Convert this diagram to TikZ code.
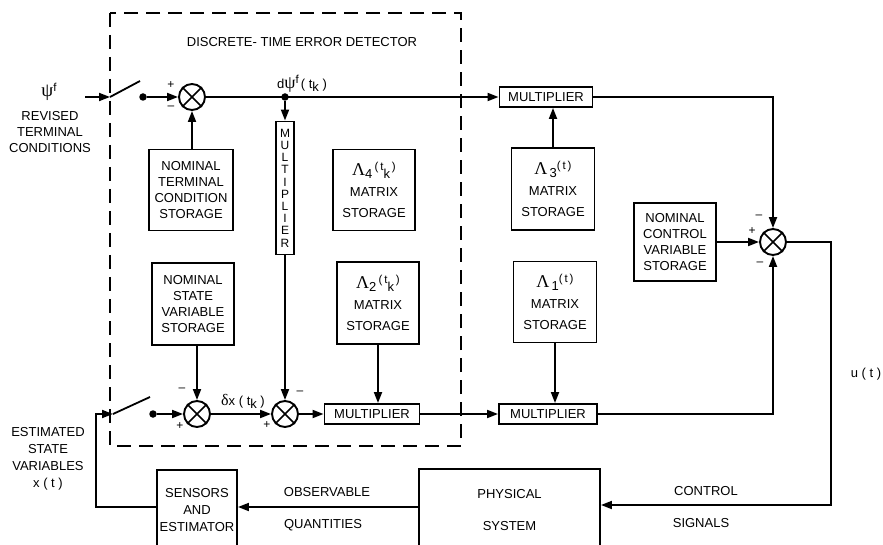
\documentclass[tikz,border=0pt]{standalone}
\usepackage{fontspec}
\setmainfont{Liberation Sans}
\newfontfamily\grk{Liberation Serif}
\newcommand{\Lam}{{\grk\fontsize{18}{18}\selectfont Λ}}
\newcommand{\lo}[1]{\raisebox{-3pt}{\fontsize{13}{13}\selectfont #1}}
\newcommand{\hi}[1]{\raisebox{5pt}{\fontsize{11.5}{11.5}\selectfont #1}}
\usetikzlibrary{arrows.meta}
\begin{document}
\begin{tikzpicture}[x=1pt,y=-1pt,
  every node/.style={font=\fontsize{13}{16}\selectfont},
  blk/.style={draw, line width=1.9pt, align=center, inner sep=2pt},
  lam/.style={blk, font=\fontsize{13}{21}\selectfont},
  mul/.style={blk, minimum height=20pt, inner sep=1pt},
  ln/.style={line width=1.8pt},
  arr/.style={line width=1.8pt, -{Triangle[length=11pt,width=8pt]}},
  sumj/.style={circle, draw, line width=1.9pt, minimum size=26pt, inner sep=0pt},
  dot/.style={circle, fill, inner sep=0pt, minimum size=7.5pt},
  lbl/.style={align=center, inner sep=0pt},
  sgn/.style={inner sep=0pt, font=\fontsize{12}{12}\selectfont},
  detbox/.style={line width=1.9pt, dash pattern=on 14pt off 8pt},
]
\useasboundingbox (0,0) rectangle (883,545);
\clip (0,0) rectangle (883,545);

% dashed detector boundary
\draw[detbox] (110,13) rectangle (461,446);
\node[lbl] (title) at (302,42) {DISCRETE- TIME ERROR DETECTOR};

% top row
\coordinate (cIn) at (85,97);
\coordinate (sw1) at (110,97);
\coordinate (sw1e) at (140,81);
\node[dot] (dot1) at (143,97) {};
\node[sumj] (sumA) at (192,97) {};
\node[dot] (dpsi) at (285,97) {};
\node[mul, minimum width=93pt] (mult1) at (546,97) {MULTIPLIER};

% storage boxes
\node[blk, minimum width=84pt, minimum height=81pt] (ntc) at (191,190) {NOMINAL\\TERMINAL\\CONDITION\\STORAGE};
\node[blk, minimum width=82pt, minimum height=82pt] (nsv) at (193,304) {NOMINAL\\STATE\\VARIABLE\\STORAGE};
\node[blk, minimum width=18pt, minimum height=133pt, inner sep=0pt, font=\fontsize{12}{12.2}\selectfont] (vm) at (285,188) {M\\U\\L\\T\\I\\P\\L\\I\\E\\R};
\node[lam, minimum width=82pt, minimum height=81pt] (L4) at (374,190) {\Lam\lo{4}\,\hi{(\,t}\lo{k}\hi{\,)}\\MATRIX\\STORAGE};
\node[lam, minimum width=82pt, minimum height=82pt] (L2) at (378,303) {\Lam\lo{2}\,\hi{(\,t}\lo{k}\hi{\,)}\\MATRIX\\STORAGE};
\node[lam, minimum width=83pt, minimum height=82pt] (L3) at (553,189) {\Lam\,\lo{3}\hi{(\,t\,)}\\MATRIX\\STORAGE};
\node[lam, minimum width=83pt, minimum height=81pt] (L1) at (555,302) {\Lam\,\lo{1}\hi{(\,t\,)}\\MATRIX\\STORAGE};
\node[blk, minimum width=82pt, minimum height=78pt] (ncv) at (675,242) {NOMINAL\\CONTROL\\VARIABLE\\STORAGE};
\node[sumj] (sumD) at (773,242) {};

% bottom row
\coordinate (sw2) at (113,414);
\coordinate (sw2e) at (150,397);
\node[dot] (dot2) at (153,414) {};
\node[sumj] (sumB) at (197,414) {};
\node[sumj] (sumC) at (285,414) {};
\node[mul, minimum width=95pt] (mult2) at (372,414) {MULTIPLIER};
\node[mul, minimum width=98pt] (mult3) at (548,414) {MULTIPLIER};

% plant and estimator
\node[blk, minimum width=80pt, minimum height=80pt, font=\fontsize{13}{17}\selectfont] (sens) at (197,510) {SENSORS\\AND\\ESTIMATOR};
\node[blk, minimum width=181pt, minimum height=82pt, font=\fontsize{13}{32}\selectfont] (phys) at (509.5,510) {PHYSICAL\\SYSTEM};
\coordinate (cO) at (0,507);
\coordinate (cL) at (96,507);
\coordinate (cR) at (831,505);

% crosses in summing junctions
\foreach \s in {sumA,sumB,sumC,sumD}
  \draw[line width=1.6pt] (\s.north west) -- (\s.south east) (\s.north east) -- (\s.south west);

% connectors: top
\draw[arr] (cIn) -- (sw1);
\draw[ln] (sw1) -- (sw1e);
\draw[arr] (dot1) -- (sumA.west);
\draw[arr] (sumA |- ntc.north) -- (sumA.south);
\draw[arr] (sumA.east) -- (mult1.west);
\draw[arr] (dpsi) -- (vm.north);
\draw[arr] (L3.north) -- (L3.north |- mult1.south);
\draw[arr] (mult1.east) -| (sumD.north);
\draw[arr] (ncv.east) -- (sumD.west);

% connectors: bottom
\draw[ln] (sw2) -- (sw2e);
\draw[arr] (dot2) -- (sumB.west);
\draw[arr] (sumB |- nsv.south) -- (sumB.north);
\draw[arr] (sumB.east) -- (sumC.west);
\draw[arr] (vm.south) -- (sumC.north);
\draw[arr] (sumC.east) -- (mult2.west);
\draw[arr] (L2.south) -- (L2.south |- mult2.north);
\draw[arr] (mult2.east) -- (mult3.west);
\draw[arr] (L1.south) -- (L1.south |- mult3.north);
\draw[arr] (mult3.east) -| (sumD.south);

% loop
\draw[arr] (sumD.east) -| (cR) -- (phys.east |- cR);
\draw[arr] (phys.west |- cO) -- (sens.east |- cO);
\draw[arr] (sens.west |- cO) -- (cL) |- (sw2);

% labels
\node[lbl] (psif) at (49,92) {{\grk\fontsize{19}{19}\selectfont ψ}\hi{f}};
\node[lbl] (rtc) at (50,132) {REVISED\\TERMINAL\\CONDITIONS};
\node[lbl, font=\fontsize{13}{17}\selectfont] (esv) at (48,459) {ESTIMATED\\STATE\\VARIABLES\\x ( t )};
\node[lbl] (dpsil) at (302,84) {d{\grk\fontsize{18}{18}\selectfont ψ}\hi{f}\,( t\lo{k} )};
\node[lbl] (dxl) at (243,401) {{\grk\fontsize{16}{16}\selectfont δ}x ( t\lo{k} )};
\node[lbl] (ul) at (866,374) {u ( t )};
\node[lbl] (obs) at (327,492) {OBSERVABLE};
\node[lbl] (qua) at (323,525) {QUANTITIES};
\node[lbl] (con) at (706,491) {CONTROL};
\node[lbl] (sig) at (701,523) {SIGNALS};

% signs
\node[sgn] (pA) at (171,85) {+};
\node[sgn] (mA) at (171,108) {–};
\node[sgn] (mB) at (182,390) {–};
\node[sgn] (pB) at (180,426) {+};
\node[sgn] (pC) at (267,425) {+};
\node[sgn] (mC) at (300,393) {–};
\node[sgn] (pD) at (752,231) {+};
\node[sgn] (mD1) at (759,217) {–};
\node[sgn] (mD2) at (760,264) {–};
\end{tikzpicture}
\end{document}
